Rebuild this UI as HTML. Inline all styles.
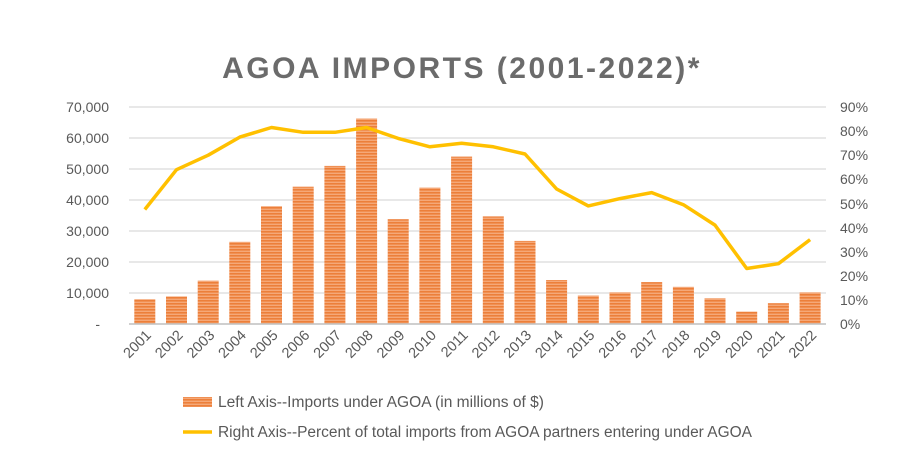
<!DOCTYPE html>
<html><head><meta charset="utf-8"><style>
body{margin:0;background:#fff;}
svg{display:block;font-family:"Liberation Sans",sans-serif;}
</style></head><body>
<svg width="911" height="459" viewBox="0 0 911 459" xmlns="http://www.w3.org/2000/svg">
<defs>
<pattern id="st" width="4" height="3" patternUnits="userSpaceOnUse">
<rect width="4" height="3" fill="#f5a878"/>
<rect width="4" height="1.6" fill="#ec7f3a"/>
</pattern>
</defs>
<rect width="911" height="459" fill="#fff"/>
<text x="462" y="78" text-anchor="middle" font-size="30" font-weight="bold" fill="#6b6b6b" letter-spacing="2.5">AGOA IMPORTS (2001-2022)*</text>
<g stroke="#d9d9d9" stroke-width="1.2">
<line x1="129" x2="826" y1="107" y2="107"/><line x1="129" x2="826" y1="138" y2="138"/>
<line x1="129" x2="826" y1="169" y2="169"/><line x1="129" x2="826" y1="200" y2="200"/>
<line x1="129" x2="826" y1="231" y2="231"/><line x1="129" x2="826" y1="262" y2="262"/>
<line x1="129" x2="826" y1="293" y2="293"/>
</g>
<g font-size="14" fill="#595959" text-anchor="end">
<text x="109" y="112">70,000</text><text x="109" y="143">60,000</text><text x="109" y="174">50,000</text>
<text x="109" y="205">40,000</text><text x="109" y="236">30,000</text><text x="109" y="267">20,000</text>
<text x="109" y="298">10,000</text><text x="100" y="329">-</text>
</g>
<g font-size="14" fill="#595959">
<text x="840" y="112">90%</text><text x="840" y="136">80%</text><text x="840" y="160">70%</text>
<text x="840" y="184">60%</text><text x="840" y="209">50%</text><text x="840" y="233">40%</text>
<text x="840" y="257">30%</text><text x="840" y="281">20%</text><text x="840" y="305">10%</text>
<text x="840" y="329">0%</text>
</g>
<g fill="url(#st)">
<rect x="134.3" y="299.2" width="21" height="24.8"/><rect x="166.0" y="296.4" width="21" height="27.6"/>
<rect x="197.7" y="280.6" width="21" height="43.4"/><rect x="229.3" y="241.8" width="21" height="82.2"/>
<rect x="261.0" y="206.2" width="21" height="117.8"/><rect x="292.7" y="186.7" width="21" height="137.3"/>
<rect x="324.4" y="165.9" width="21" height="158.1"/><rect x="356.1" y="118.5" width="21" height="205.5"/>
<rect x="387.7" y="219.2" width="21" height="104.8"/><rect x="419.4" y="187.6" width="21" height="136.4"/>
<rect x="451.1" y="156.6" width="21" height="167.4"/><rect x="482.8" y="216.4" width="21" height="107.6"/>
<rect x="514.5" y="240.9" width="21" height="83.1"/><rect x="546.1" y="280.0" width="21" height="44"/>
<rect x="577.8" y="295.5" width="21" height="28.5"/><rect x="609.5" y="292.4" width="21" height="31.6"/>
<rect x="641.2" y="282.1" width="21" height="41.9"/><rect x="672.9" y="286.8" width="21" height="37.2"/>
<rect x="704.5" y="298.3" width="21" height="25.7"/><rect x="736.2" y="311.6" width="21" height="12.4"/>
<rect x="767.9" y="303.2" width="21" height="20.8"/><rect x="799.6" y="292.4" width="21" height="31.6"/>
</g>
<line x1="129" x2="826" y1="324" y2="324" stroke="#bfbfbf" stroke-width="1.5"/>
<polyline fill="none" stroke="#ffc000" stroke-width="3.5" stroke-linejoin="round" points="144.8,209.5 176.5,169.7 208.2,155.2 239.8,137.1 271.5,127.5 303.2,132.3 334.9,132.3 366.6,127.5 398.2,138.4 429.9,146.8 461.6,143.2 493.3,146.8 525,154 556.6,189 588.3,205.9 620,198.6 651.7,192.6 683.4,204.7 715,225.1 746.7,268.5 778.4,263.7 810.1,239.6"/>
<g font-size="14.5" fill="#595959" text-anchor="end">
<text transform="translate(152,336) rotate(-45)">2001</text><text transform="translate(183.7,336) rotate(-45)">2002</text>
<text transform="translate(215.4,336) rotate(-45)">2003</text><text transform="translate(247,336) rotate(-45)">2004</text>
<text transform="translate(278.7,336) rotate(-45)">2005</text><text transform="translate(310.4,336) rotate(-45)">2006</text>
<text transform="translate(342.1,336) rotate(-45)">2007</text><text transform="translate(373.8,336) rotate(-45)">2008</text>
<text transform="translate(405.4,336) rotate(-45)">2009</text><text transform="translate(437.1,336) rotate(-45)">2010</text>
<text transform="translate(468.8,336) rotate(-45)">2011</text><text transform="translate(500.5,336) rotate(-45)">2012</text>
<text transform="translate(532.2,336) rotate(-45)">2013</text><text transform="translate(563.8,336) rotate(-45)">2014</text>
<text transform="translate(595.5,336) rotate(-45)">2015</text><text transform="translate(627.2,336) rotate(-45)">2016</text>
<text transform="translate(658.9,336) rotate(-45)">2017</text><text transform="translate(690.6,336) rotate(-45)">2018</text>
<text transform="translate(722.2,336) rotate(-45)">2019</text><text transform="translate(753.9,336) rotate(-45)">2020</text>
<text transform="translate(785.6,336) rotate(-45)">2021</text><text transform="translate(817.3,336) rotate(-45)">2022</text>
</g>
<rect x="183" y="397" width="29" height="10" fill="url(#st)"/>
<text x="218" y="407" font-size="15.5" fill="#595959" textLength="326" lengthAdjust="spacingAndGlyphs">Left Axis--Imports under AGOA (in millions of $)</text>
<line x1="183" x2="212" y1="432" y2="432" stroke="#ffc000" stroke-width="3.5"/>
<text x="218" y="437" font-size="15.5" fill="#595959" textLength="534" lengthAdjust="spacingAndGlyphs">Right Axis--Percent of total imports from AGOA partners entering under AGOA</text>
</svg>
</body></html>
